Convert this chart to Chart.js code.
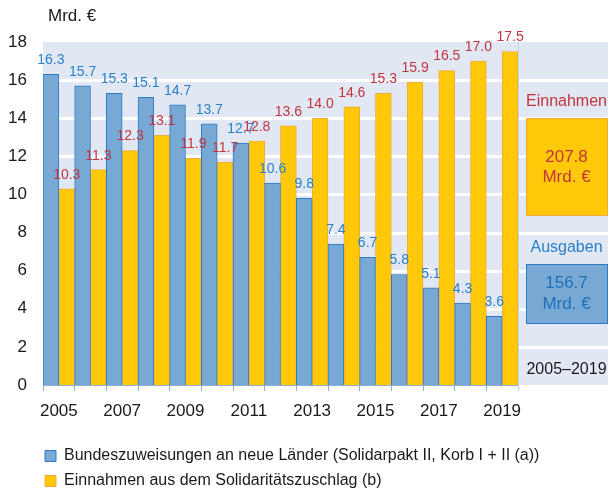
<!DOCTYPE html>
<html>
<head>
<meta charset="utf-8">
<script src="https://cdn.jsdelivr.net/npm/chart.js@4/dist/chart.umd.min.js"></script>
<style>
  html, body { margin: 0; padding: 0; background: #ffffff; }
  #wrap { width: 610px; height: 490px; position: relative; }
</style>
</head>
<body>
<div id="wrap"><canvas id="c" width="610" height="490"></canvas></div>
<script>
const years = ['2005','2006','2007','2008','2009','2010','2011','2012','2013','2014','2015','2016','2017','2018','2019'];
const bundValues = [16.3, 15.7, 15.3, 15.1, 14.7, 13.7, 12.7, 10.6, 9.8, 7.4, 6.7, 5.8, 5.1, 4.3, 3.6];
const soliValues = [10.3, 11.3, 12.3, 13.1, 11.9, 11.7, 12.8, 13.6, 14.0, 14.6, 15.3, 15.9, 16.5, 17.0, 17.5];
const seriesNames = ['Bundeszuweisungen an neue Länder (Solidarpakt II, Korb I + II (a))',
                     'Einnahmen aus dem Solidaritätszuschlag (b)'];
const yMin = 0, yMax = 18, yStep = 2;
const unitLabel = 'Mrd. €';
const totalIncome = '207.8';
const totalSpend = '156.7';
const periodLabel = '2005–2019';

const FONT = "'Liberation Sans', Arial, sans-serif";
const BLUE_FILL = '#78a9d4', BLUE_LINE = '#2b7cc4', BLUE_TEXT = '#2a80c8';
const YEL_FILL = '#ffc808', YEL_LINE = '#f2a93a', RED_TEXT = '#c2343e';
const PANEL = '#e1e8f4';

const panelPlugin = {
  id: 'panel',
  afterLayout(chart) {
    // indent the legend to line up with the reference
    if (chart.legend) { chart.legend.left += 36; }
  },
  beforeDraw(chart) {
    const {ctx, chartArea, scales} = chart;
    const y = scales.y;
    const right = chart.width - 2;
    ctx.save();
    ctx.fillStyle = PANEL;
    ctx.fillRect(chartArea.left, y.getPixelForValue(yMax), right - chartArea.left, y.getPixelForValue(yMin) - y.getPixelForValue(yMax));
    ctx.strokeStyle = '#ffffff';
    ctx.lineWidth = 3;
    for (let v = yMin + yStep; v < yMax; v += yStep) {
      const py = Math.round(y.getPixelForValue(v)) + 0.5;
      ctx.beginPath();
      ctx.moveTo(chartArea.left, py);
      ctx.lineTo(right, py);
      ctx.stroke();
    }
    ctx.restore();
  },
  afterDatasetsDraw(chart) {
    const {ctx, chartArea, scales} = chart;
    ctx.save();
    ctx.strokeStyle = '#c3d0e6';
    ctx.lineWidth = 1;
    ctx.beginPath();
    ctx.moveTo(chartArea.right + 0.5, scales.y.getPixelForValue(yMax));
    ctx.lineTo(chartArea.right + 0.5, chartArea.bottom + 6);
    ctx.stroke();
    ctx.font = '14px ' + FONT;
    ctx.textAlign = 'center';
    ctx.textBaseline = 'middle';
    chart.data.datasets.forEach((ds, di) => {
      const meta = chart.getDatasetMeta(di);
      ctx.fillStyle = di === 0 ? BLUE_TEXT : RED_TEXT;
      meta.data.forEach((el, i) => {
        ctx.fillText(ds.data[i].toFixed(1), el.x, el.y - 14);
      });
    });
    ctx.restore();
  },
  afterDraw(chart) {
    const {ctx, chartArea} = chart;
    const bx = chartArea.right + 8, bw = 81, cx = bx + bw / 2;
    ctx.save();
    ctx.textBaseline = 'middle';
    ctx.font = '17px ' + FONT;
    ctx.fillStyle = '#1a1a1a';
    ctx.textAlign = 'left';
    ctx.fillText(unitLabel, 48, 16);
    ctx.textAlign = 'center';
    ctx.font = '16px ' + FONT;
    ctx.fillStyle = RED_TEXT;
    ctx.fillText('Einnahmen', cx, 101.5);
    ctx.fillStyle = YEL_FILL;
    ctx.strokeStyle = YEL_LINE;
    ctx.lineWidth = 1;
    ctx.fillRect(bx, 118, bw, 97);
    ctx.strokeRect(bx + 0.5, 118.5, bw, 97);
    ctx.font = '17px ' + FONT;
    ctx.fillStyle = RED_TEXT;
    ctx.fillText(totalIncome, cx, 157);
    ctx.fillText(unitLabel, cx, 177);
    ctx.font = '16px ' + FONT;
    ctx.fillStyle = BLUE_TEXT;
    ctx.fillText('Ausgaben', cx, 248);
    ctx.fillStyle = BLUE_FILL;
    ctx.strokeStyle = BLUE_LINE;
    ctx.fillRect(bx, 264, bw, 59);
    ctx.strokeRect(bx + 0.5, 264.5, bw, 59);
    ctx.font = '17px ' + FONT;
    ctx.fillStyle = '#1f6fb6';
    ctx.fillText(totalSpend, cx, 283);
    ctx.fillText(unitLabel, cx, 304);
    ctx.font = '16px ' + FONT;
    ctx.fillStyle = '#1a1a1a';
    ctx.fillText(periodLabel, cx, 369.5);
    ctx.restore();
  }
};

new Chart(document.getElementById('c'), {
  type: 'bar',
  data: {
    labels: years,
    datasets: [
      { label: seriesNames[0], data: bundValues, backgroundColor: BLUE_FILL, borderColor: BLUE_LINE,
        borderWidth: 1, borderSkipped: 'bottom', categoryPercentage: 1.0, barPercentage: 1.0, yAxisID: 'y' },
      { label: seriesNames[1], data: soliValues, backgroundColor: YEL_FILL, borderColor: YEL_LINE,
        borderWidth: 1, borderSkipped: 'bottom', categoryPercentage: 1.0, barPercentage: 1.0, yAxisID: 'y' }
    ]
  },
  options: {
    responsive: false,
    animation: false,
    layout: { padding: { left: 0, right: 0, top: 42, bottom: -9 } },
    plugins: {
      legend: {
        display: true,
        position: 'bottom',
        align: 'start',
        labels: {
          boxWidth: 11, boxHeight: 11, padding: 9,
          color: '#1a1a1a',
          font: { size: 16, family: FONT, lineHeight: 1.2 }
        }
      },
      tooltip: { enabled: false },
      title: { display: false }
    },
    scales: {
      x: {
        type: 'category',
        offset: true,
        grid: { display: true, drawOnChartArea: false, drawTicks: true, tickLength: 6, color: '#8badd9', offset: true },
        border: { display: true, color: '#8badd9', width: 1 },
        ticks: {
          autoSkip: false, maxRotation: 0, padding: 10,
          color: '#1a1a1a', font: { size: 17, family: FONT },
          callback: function(val, idx) { return idx % 2 === 0 ? this.getLabelForValue(val) : ''; }
        },
        afterFit(scale) { scale.height = 54; }
      },
      y: {
        position: 'left',
        min: yMin, max: yMax,
        grid: { display: false, drawTicks: false },
        border: { display: false },
        ticks: { stepSize: yStep, padding: 16, color: '#1a1a1a', font: { size: 17, family: FONT } },
        afterFit(scale) { scale.width = 43; }
      },
      side: {
        position: 'right',
        display: true,
        min: yMin, max: yMax,
        grid: { display: false, drawTicks: false },
        border: { display: false },
        ticks: { display: false },
        afterFit(scale) { scale.width = 92; }
      }
    }
  },
  plugins: [panelPlugin]
});
</script>
</body>
</html>
